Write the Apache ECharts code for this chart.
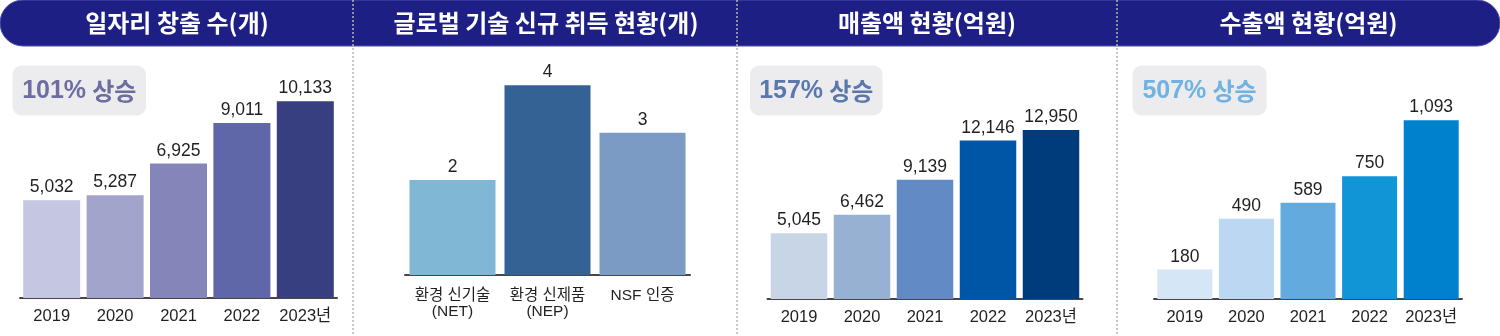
<!DOCTYPE html>
<html><head><meta charset="utf-8">
<script src="https://cdn.jsdelivr.net/npm/echarts@6/dist/echarts.min.js"></script>
<style>html,body{margin:0;padding:0;background:#fff}#c{width:1500px;height:336px}</style>
</head><body><div id="c"></div>
<script>
const years = ['2019','2020','2021','2022','2023년'];
const jobs = [5032,5287,6925,9011,10133];
const techCats = ['환경 신기술\n(NET)','환경 신제품\n(NEP)','NSF 인증'];
const tech = [2,4,3];
const sales = [5045,6462,9139,12146,12950];
const exportsAmt = [180,490,589,750,1093];
const titles = ['일자리 창출 수(개)','글로벌 기술 신규 취득 현황(개)','매출액 현황(억원)','수출액 현황(억원)'];
const badgePct = ['101%','157%','507%'];
const badgeWord = '상승';

const colJobs = ['#c5c6e1','#a3a4cc','#8585ba','#6067a9','#373f80'];
const colTech = ['#80b7d4','#346295','#7b9bc5'];
const colSales = ['#c8d5e7','#97b1d3','#628ac5','#0056a6','#003b7b'];
const colExp = ['#d5e7f6','#bbd7f1','#63abde','#1295d7','#0081cd'];

const NUM = "'Liberation Sans','Noto Sans CJK KR',sans-serif";
const KR = "'Noto Sans CJK KR',sans-serif";

const chart = echarts.init(document.getElementById('c'), null, {renderer:'canvas'});

const grids = [
  {left:20, width:317, top:65, bottom:38},
  {left:405, width:285, top:61.5, bottom:61},
  {left:767.5, width:315, top:64, bottom:37},
  {left:1154, width:308, top:70, bottom:37}
];
const maxes = [12000, 4.5, 18000, 1400];
const cats = [years, techCats, years, years];
const vals = [jobs, tech, sales, exportsAmt];
const cols = [colJobs, colTech, colSales, colExp];
const widths = [57, 86, 56.5, 55];

const xAxis = cats.map((c,i)=>({
  type:'category', gridIndex:i, data:c,
  axisLine:{show:true, lineStyle:{color:'#4a4446', width:2}},
  axisTick:{show:false},
  axisLabel:{
    margin: i===1 ? 13 : 9,
    color:'#231f20', fontFamily:NUM, fontSize: i===1 ? 15.5 : 16.5,
    lineHeight: i===1 ? 16 : 18,
    interval:0
  }
}));
const yAxis = maxes.map((m,i)=>({type:'value', gridIndex:i, min:0, max:m, show:false, splitLine:{show:false}}));
const series = vals.map((v,i)=>({
  type:'bar', xAxisIndex:i, yAxisIndex:i, data:v, barWidth:widths[i],
  itemStyle:{color:(p)=>cols[i][p.dataIndex]},
  label:{show:true, position:'top', distance:4, color:'#231f20', fontFamily:NUM, fontSize:17.5,
    formatter:(p)=>p.value.toLocaleString('en-US')},
  silent:true, animation:false
}));

const centers = [177, 546, 927, 1308.5];
const graphic = [
  {type:'rect', shape:{x:0, y:0, width:1500, height:46, r:23}, style:{fill:'#1e1f85', stroke:'#4d4fa6', lineWidth:1}, z:1},
];
titles.forEach((t,i)=>graphic.push({type:'text', x:centers[i], y:23, z:3,
  style:{text:t, fill:'#fff', font:"bold 24px "+KR, textAlign:'center', textVerticalAlign:'middle'}}));
[353, 737, 1117].forEach(x=>graphic.push({type:'line', shape:{x1:x, y1:0, x2:x, y2:336}, z:2,
  style:{stroke:'#b5b5b5', lineWidth:1.5, lineDash:[2,2]}}));
const badges = [
  {x:12.5, w:133.5, color:'#6d6da0', pct:badgePct[0]},
  {x:750, w:132.5, color:'#5b78ad', pct:badgePct[1]},
  {x:1132.5, w:134, color:'#70b2e2', pct:badgePct[2]}
];
badges.forEach(b=>{
  graphic.push({type:'rect', shape:{x:b.x, y:65.5, width:b.w, height:50, r:9}, style:{fill:'#ececef'}, z:1});
  graphic.push({type:'text', x:b.x+b.w/2, y:91, z:3, style:{
    text:'{n|'+b.pct+'}{s| }{k|'+badgeWord+'}', textAlign:'center', textVerticalAlign:'middle',
    rich:{
      n:{fontFamily:NUM, fontSize:25, fontWeight:'bold', fill:b.color, color:b.color},
      s:{fontFamily:NUM, fontSize:22, fill:b.color},
      k:{fontFamily:KR, fontSize:24, fontWeight:'bold', fill:b.color, color:b.color}
    }
  }});
});

chart.setOption({
  animation:false,
  grid:grids,
  xAxis:xAxis,
  yAxis:yAxis,
  series:series,
  graphic:graphic
});
</script></body></html>
